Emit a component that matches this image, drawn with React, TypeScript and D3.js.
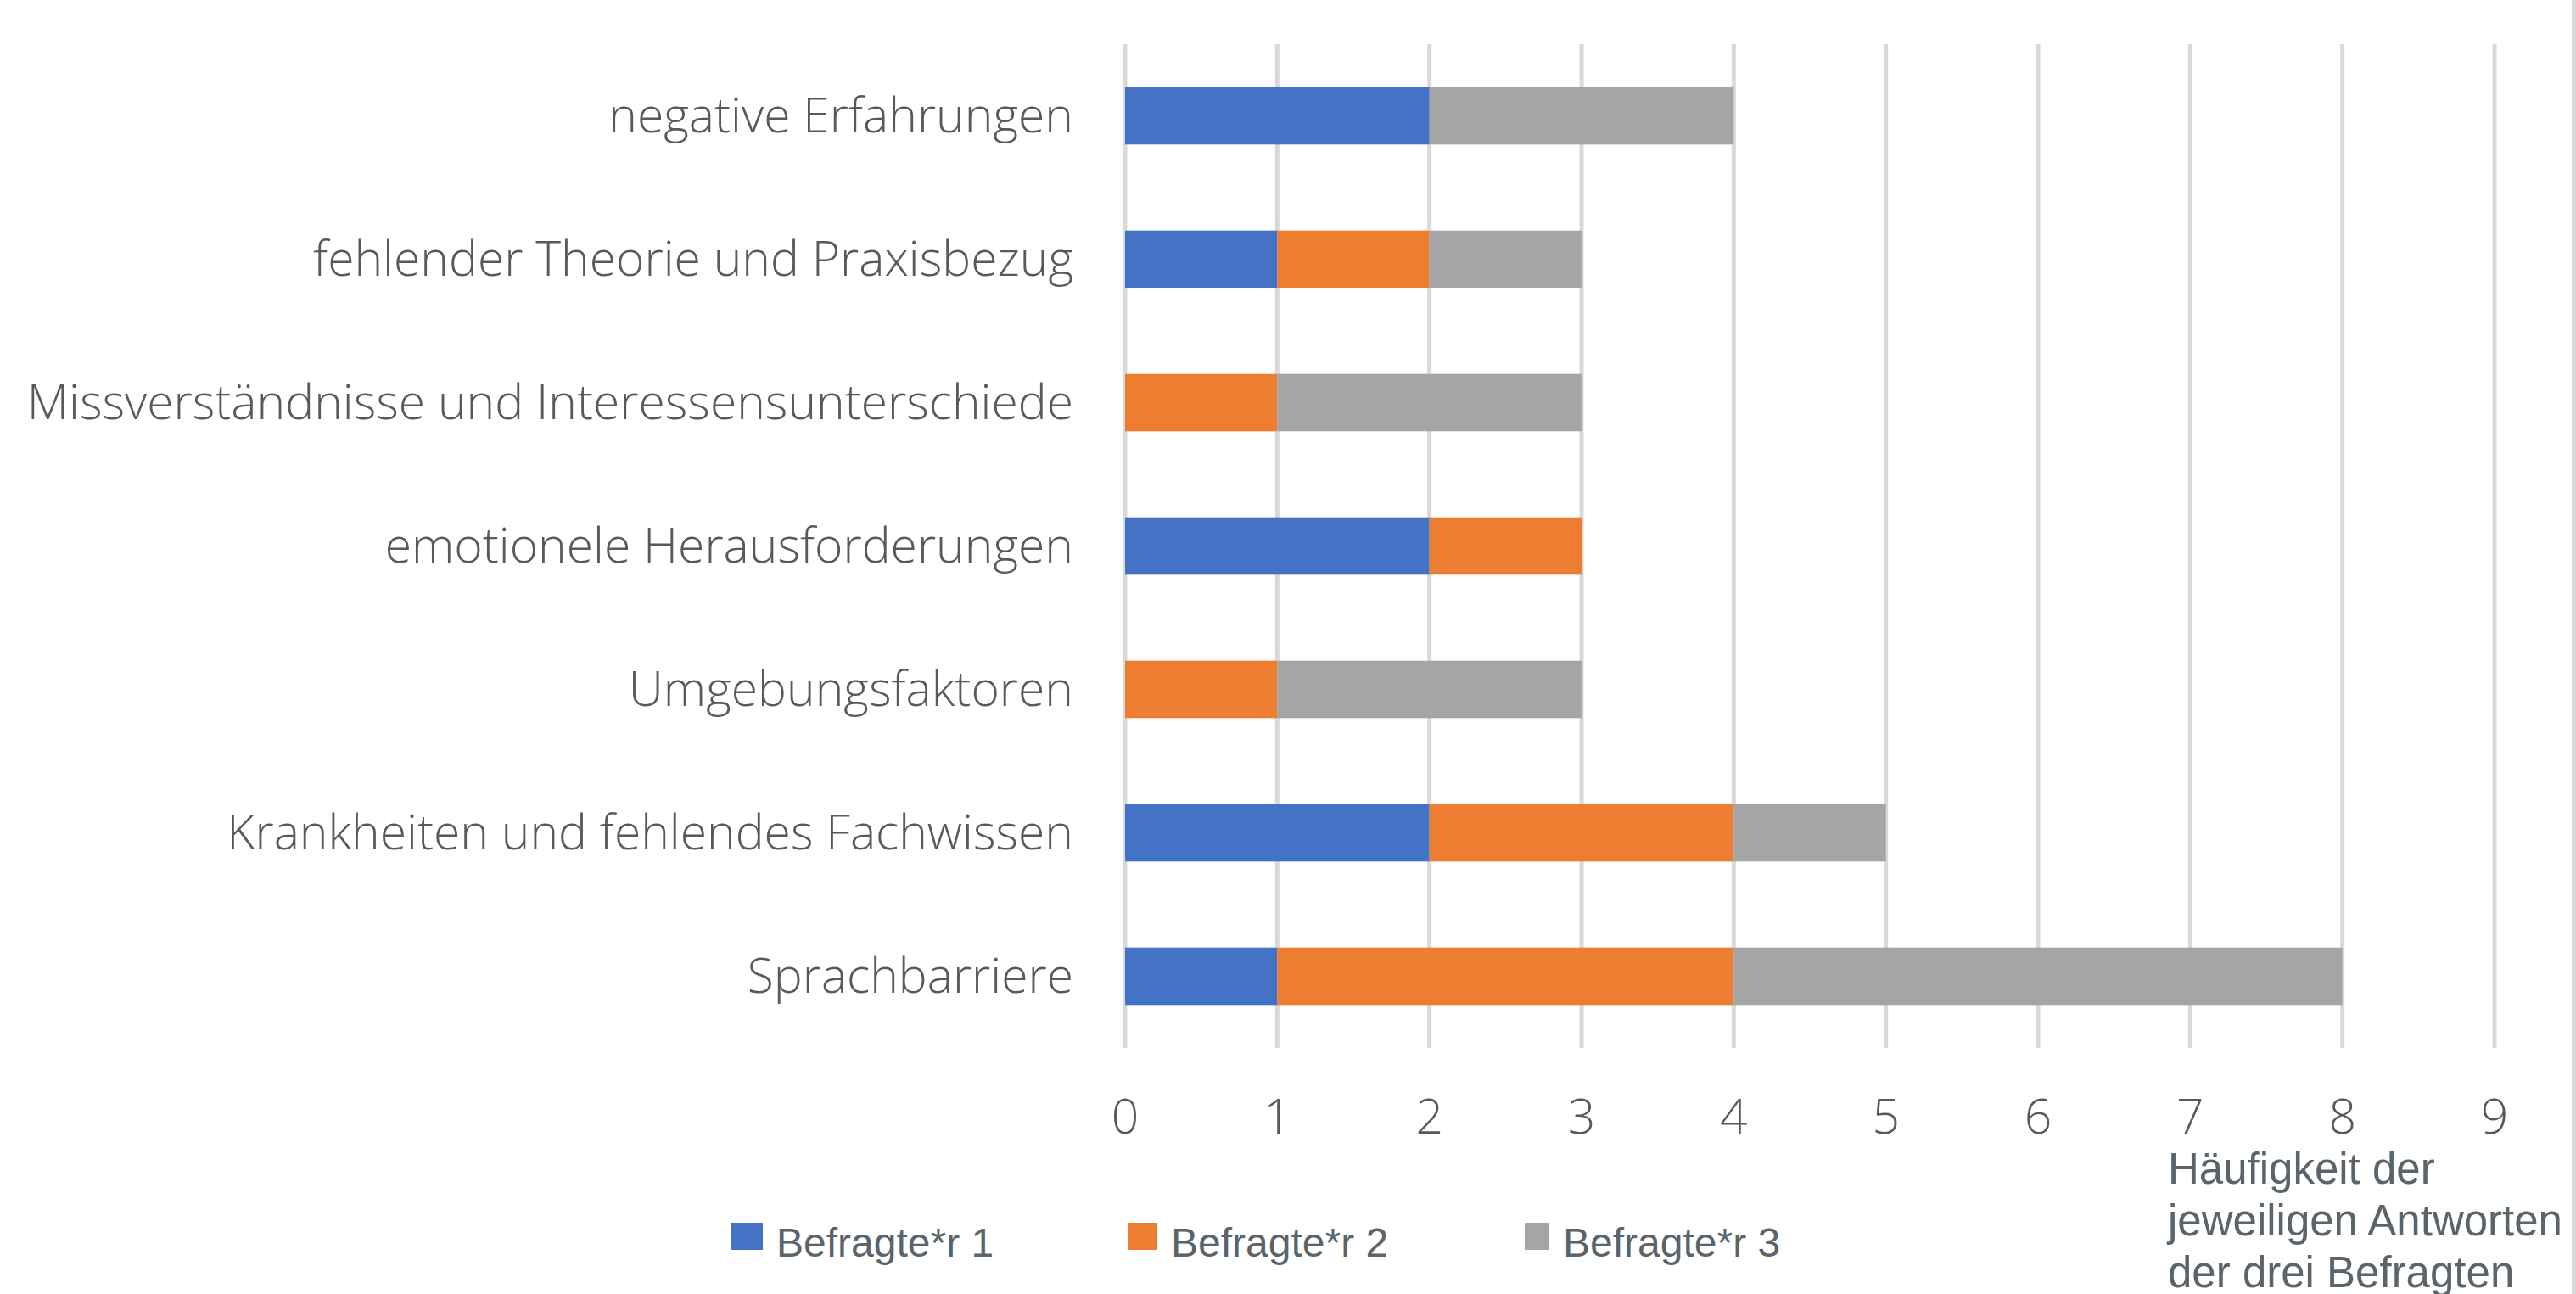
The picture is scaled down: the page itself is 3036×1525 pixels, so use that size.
import * as d3 from "d3";

const categories = [
  "negative Erfahrungen",
  "fehlender Theorie und Praxisbezug",
  "Missverständnisse und Interessensunterschiede",
  "emotionele Herausforderungen",
  "Umgebungsfaktoren",
  "Krankheiten und fehlendes Fachwissen",
  "Sprachbarriere",
];
const befragte1 = [2, 1, 0, 2, 0, 2, 1];
const befragte2 = [0, 1, 1, 1, 1, 2, 3];
const befragte3 = [2, 1, 2, 0, 2, 1, 4];
const seriesNames = ["Befragte*r 1", "Befragte*r 2", "Befragte*r 3"];
const seriesColors = ["#4472C4", "#ED7D31", "#A5A5A5"];
const xTicks = [0, 1, 2, 3, 4, 5, 6, 7, 8, 9];
const axisTitle = ["Häufigkeit der", "jeweiligen Antworten", "der drei Befragten"];

const W = 3036;
const H = 1525;

export default function App() {
  const rows = categories.map((c, i) => ({
    cat: c,
    s0: befragte1[i],
    s1: befragte2[i],
    s2: befragte3[i],
  }));
  const stacked = d3.stack<any>().keys(["s0", "s1", "s2"])(rows);

  const x = d3.scaleLinear().domain([0, 9]).range([1326, 2940]);
  const y = d3
    .scaleBand()
    .domain(categories)
    .range([52, 1235])
    .paddingInner(0.6)
    .paddingOuter(0.3);

  const legendX = d3.scaleLinear().domain([0, 1]).range([861, 1329]);
  const legendW = [38, 35, 29];

  const labelFont = "'Open Sans', 'Noto Sans', sans-serif";
  const legendFont = "'Liberation Sans', Arial, sans-serif";

  return (
    <svg
      width={W}
      height={H}
      style={{ position: "absolute", left: 0, top: 0, background: "#fff" }}
    >
      {/* gridlines */}
      {xTicks.map((t) => (
        <line
          key={t}
          x1={x(t)}
          x2={x(t)}
          y1={52}
          y2={1235}
          stroke="#d9d9d9"
          strokeWidth={5}
        />
      ))}

      {/* bars */}
      {stacked.map((layer, si) => (
        <g key={si} fill={seriesColors[si]}>
          {layer.map((d) =>
            d[1] - d[0] > 0 ? (
              <rect
                key={d.data.cat}
                x={x(d[0])}
                y={y(d.data.cat)}
                width={x(d[1]) - x(d[0])}
                height={y.bandwidth()}
              />
            ) : null
          )}
        </g>
      ))}

      {/* category labels */}
      {categories.map((c) => (
        <text
          key={c}
          x={1265}
          y={(y(c) ?? 0) + y.bandwidth() / 2}
          dy="0.35em"
          textAnchor="end"
          fontFamily={labelFont}
          fontWeight={300}
          fontSize={57}
          fill="#595959"
        >
          {c}
        </text>
      ))}

      {/* x tick labels */}
      {xTicks.map((t) => (
        <text
          key={t}
          x={x(t)}
          y={1316}
          dy="0.35em"
          textAnchor="middle"
          fontFamily={labelFont}
          fontWeight={300}
          fontSize={57}
          fill="#595959"
        >
          {t}
        </text>
      ))}

      {/* axis title */}
      <text fontFamily={legendFont} fontSize={51} fill="#5a646b">
        {axisTitle.map((line, i) => (
          <tspan key={i} x={2555} y={1395 + i * 61}>
            {line}
          </tspan>
        ))}
      </text>

      {/* legend */}
      {seriesNames.map((name, i) => (
        <g key={name}>
          <rect
            x={legendX(i)}
            y={1441}
            width={legendW[i]}
            height={32}
            fill={seriesColors[i]}
          />
          <text
            x={legendX(i) + legendW[i] + 16}
            y={1481}
            fontFamily={legendFont}
            fontSize={48}
            fill="#5a646b"
          >
            {name}
          </text>
        </g>
      ))}

      {/* chart border on the right */}
      <line x1={3033.5} x2={3033.5} y1={0} y2={H} stroke="#d9d9d9" strokeWidth={5} />
    </svg>
  );
}
